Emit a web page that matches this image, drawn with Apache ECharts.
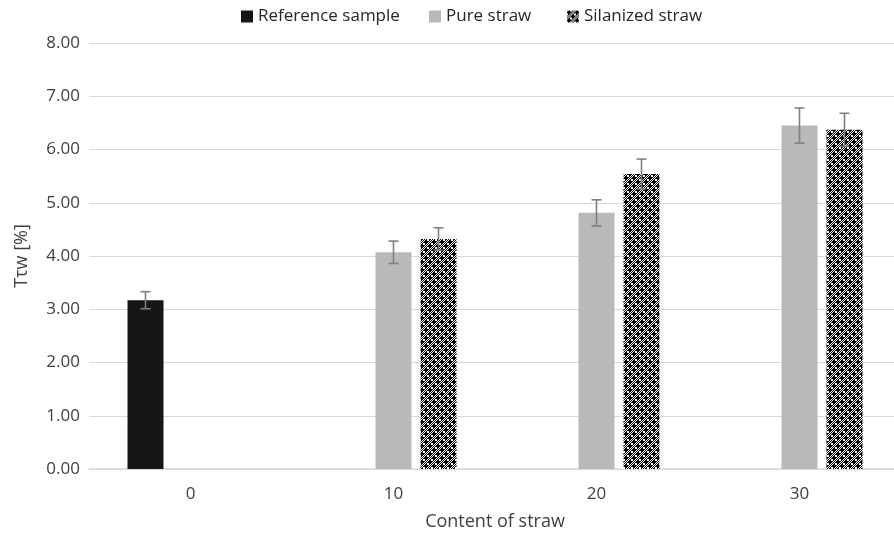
<!DOCTYPE html>
<html>
<head>
<meta charset="utf-8">
<script src="https://cdn.jsdelivr.net/npm/echarts@6/dist/echarts.min.js"></script>
<style>
  html, body { margin: 0; padding: 0; background: #fff; overflow: hidden; }
  #chart { width: 894px; height: 537px; }
</style>
</head>
<body>
<div id="chart"></div>
<script>
// Straw content categories and measured values (mean and ± error)
const categories = ['0', '10', '20', '30'];
const referenceSample = [3.17, null, null, null];
const pureStraw = [null, 4.07, 4.81, 6.45];
const silanizedStraw = [null, 4.32, 5.54, 6.37];
const referenceErr = [0.16, null, null, null];
const pureErr = [null, 0.21, 0.245, 0.33];
const silanizedErr = [null, 0.21, 0.28, 0.31];
const yTicks = { min: 0, max: 8, interval: 1 };

const FONT = '"Open Sans", "DejaVu Sans", sans-serif';
const BAR_W = 36;
const BAR_GAP = 0.25; // fraction of bar width between neighbouring bars

// Cross/checker fill for the silanized bars
function makePattern() {
  const c = document.createElement('canvas');
  c.width = 8; c.height = 8;
  const ctx = c.getContext('2d');
  ctx.fillStyle = '#ffffff';
  ctx.fillRect(0, 0, 8, 8);
  ctx.fillStyle = '#000000';
  // thick plus shapes on a diagonal lattice
  const cross = (ox, oy) => {
    ctx.fillRect(ox + 1, oy, 2, 4);
    ctx.fillRect(ox, oy + 1, 4, 2);
  };
  cross(0, 0);
  cross(4, 4);
  // fine checker in the remaining quadrants
  for (let y = 0; y < 4; y++) {
    for (let x = 0; x < 4; x++) {
      if ((x + y) % 2 === 1) {
        ctx.fillRect(4 + x, y, 1, 1);
        ctx.fillRect(x, 4 + y, 1, 1);
      }
    }
  }
  return c;
}
const pattern = { image: makePattern(), repeat: 'repeat' };

function errorData(values, errs) {
  const out = [];
  values.forEach((v, i) => {
    if (v != null && errs[i] != null) out.push([i, v, errs[i]]);
  });
  return out;
}

function errorSeries(values, errs, slot) {
  const offset = (slot - 1) * (BAR_W + BAR_W * BAR_GAP);
  return {
    type: 'custom',
    silent: true,
    z: 10,
    data: errorData(values, errs),
    renderItem(params, api) {
      const x = api.value(0), v = api.value(1), e = api.value(2);
      const hi = api.coord([x, v + e]);
      const lo = api.coord([x, v - e]);
      const cx = hi[0] + offset;
      const style = { stroke: '#7f7f7f', lineWidth: 1.6 };
      const half = 5;
      return {
        type: 'group',
        children: [
          { type: 'line', shape: { x1: cx, y1: hi[1], x2: cx, y2: lo[1] }, style },
          { type: 'line', shape: { x1: cx - half, y1: hi[1], x2: cx + half, y2: hi[1] }, style },
          { type: 'line', shape: { x1: cx - half, y1: lo[1], x2: cx + half, y2: lo[1] }, style }
        ]
      };
    }
  };
}

function legendFor(name, left) {
  return {
    top: 8,
    left: left,
    padding: 0,
    itemWidth: 12,
    itemHeight: 12,
    itemGap: 0,
    icon: 'rect',
    textStyle: { fontFamily: FONT, fontSize: 17, color: '#262626' },
    data: [name]
  };
}

const chart = echarts.init(document.getElementById('chart'), null, { renderer: 'canvas' });
chart.setOption({
  animation: false,
  backgroundColor: '#ffffff',
  legend: [
    legendFor('Reference sample', 241),
    legendFor('Pure straw', 429),
    legendFor('Silanized straw', 567)
  ],
  grid: { left: 89, top: 43, width: 812, height: 426, containLabel: false, outerBoundsMode: 'none' },
  xAxis: {
    type: 'category',
    data: categories,
    name: 'Content of straw',
    nameLocation: 'middle',
    nameGap: 44,
    nameTextStyle: { fontFamily: FONT, fontSize: 18, color: '#404040' },
    axisLine: { lineStyle: { color: '#d9d9d9', width: 1.5 } },
    axisTick: { show: false },
    axisLabel: { fontFamily: FONT, fontSize: 17, color: '#404040', margin: 17 }
  },
  yAxis: {
    type: 'value',
    min: yTicks.min,
    max: yTicks.max,
    interval: yTicks.interval,
    name: 'Tτw [%]',
    nameLocation: 'middle',
    nameGap: 58,
    nameTextStyle: { fontFamily: FONT, fontSize: 18, color: '#404040' },
    axisLine: { show: false },
    axisTick: { show: false },
    axisLabel: {
      fontFamily: FONT, fontSize: 17, color: '#404040', margin: 9,
      formatter: v => v.toFixed(2)
    },
    splitLine: { lineStyle: { color: '#d9d9d9', width: 1.2 } }
  },
  series: [
    {
      name: 'Reference sample', type: 'bar', data: referenceSample,
      barWidth: BAR_W, barGap: (BAR_GAP * 100) + '%',
      itemStyle: { color: '#161616' }
    },
    {
      name: 'Pure straw', type: 'bar', data: pureStraw,
      barWidth: BAR_W, barGap: (BAR_GAP * 100) + '%',
      itemStyle: { color: '#b9b9b9' }
    },
    {
      name: 'Silanized straw', type: 'bar', data: silanizedStraw,
      barWidth: BAR_W, barGap: (BAR_GAP * 100) + '%',
      itemStyle: { color: pattern }
    },
    errorSeries(referenceSample, referenceErr, 0),
    errorSeries(pureStraw, pureErr, 1),
    errorSeries(silanizedStraw, silanizedErr, 2)
  ]
});
</script>
</body>
</html>
